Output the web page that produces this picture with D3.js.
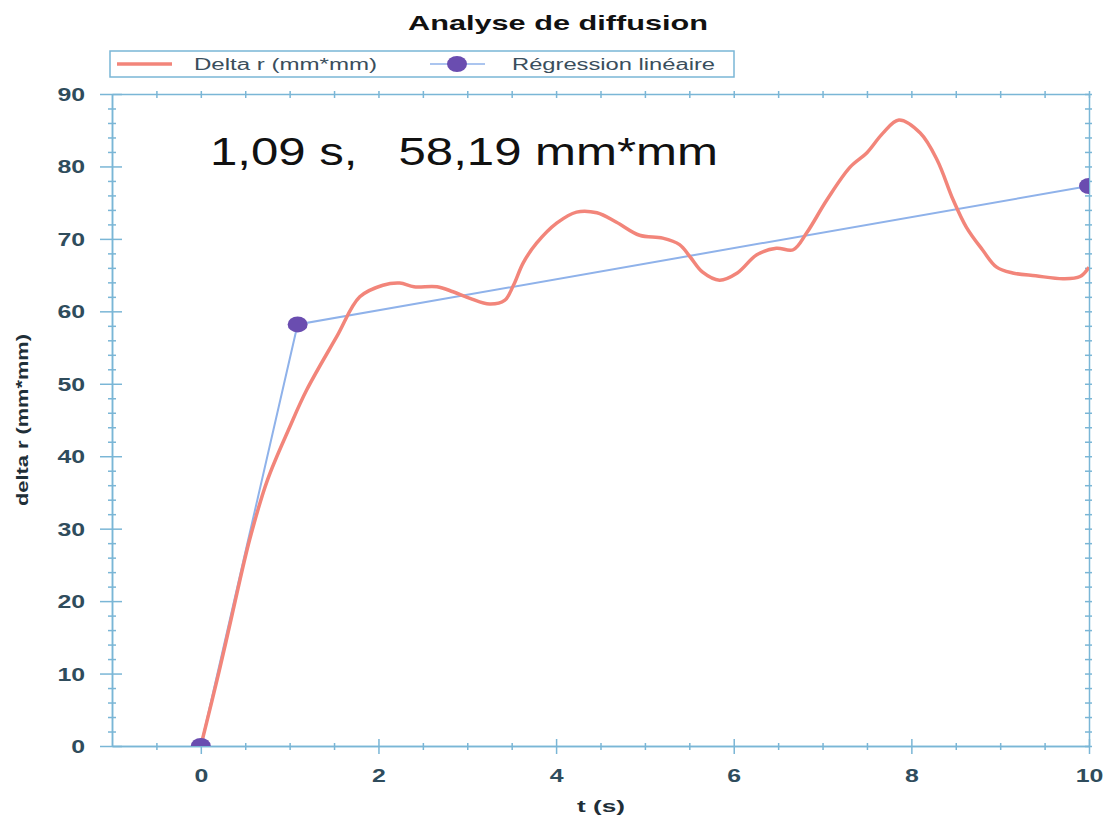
<!DOCTYPE html>
<html>
<head>
<meta charset="utf-8">
<script src="https://cdn.jsdelivr.net/npm/d3@7"></script>
<style>
  body { margin: 0; background: #fff; }
  text { font-family: "Liberation Sans", Arial, sans-serif; }
</style>
</head>
<body>
<div id="chart"></div>
<script>
var width = 1106,
    height = 823;

// Delta r (mm*mm) curve
var deltaT = [0, 0.21, 0.35, 0.55, 0.75, 1.0, 1.19, 1.53, 1.79, 2.05, 2.24, 2.4, 2.66, 2.84, 3.03, 3.25, 3.42, 3.52,
              3.63, 3.78, 4.01, 4.23, 4.46, 4.68, 4.94, 5.2, 5.39, 5.51, 5.65, 5.84, 6.04, 6.26, 6.48, 6.67, 6.82,
              7.05, 7.31, 7.5, 7.68, 7.86, 8.1, 8.29, 8.47, 8.62, 8.8, 8.96, 9.14, 9.4, 9.71, 9.9, 10];
var deltaR = [0, 10.5, 18, 28.5, 36.7, 44, 49.1, 56.5, 62.0, 63.6, 63.9, 63.4, 63.4, 62.7, 61.8, 61.0, 61.5, 63.6,
              66.7, 69.4, 72.2, 73.7, 73.6, 72.3, 70.5, 70.1, 69.2, 67.5, 65.4, 64.3, 65.3, 67.8, 68.7, 68.5, 70.8,
              75.4, 79.9, 81.9, 84.6, 86.4, 84.6, 80.9, 75.4, 71.6, 68.5, 66.1, 65.3, 64.9, 64.5, 64.8, 66.1];

// linear regression points
var regT = [0, 1.09, 10];
var regR = [0, 58.19, 77.3];

var xMajor = [0, 2, 4, 6, 8, 10];
var yMajor = [0, 10, 20, 30, 40, 50, 60, 70, 80, 90];

var axisColor = "#7ab6d6",
    labelColor = "#2f4c5c",
    stretch = 1.38; // the picture is squeezed wide, so text gets widened too

var svg = d3.select("#chart").append("svg").attr("width", width).attr("height", height);
svg.append("rect").attr("width", width).attr("height", height).attr("fill", "#fff");

var x = d3.scaleLinear().domain([-1, 10]).range([112, 1089]);
var y = d3.scaleLinear().domain([0, 90]).range([746, 94]);

var x0 = x.range()[0], x1 = x.range()[1], y0 = y.range()[0], y1 = y.range()[1];

// minor tick values
var xMinor = d3.range(-0.5, 10, 0.5).filter(function(d) { return d % 2 !== 0; });
var yMinor = d3.range(2, 90, 2).filter(function(d) { return d % 10 !== 0; });

function styleAxis(g) {
    g.select(".domain").attr("stroke", axisColor).attr("stroke-width", 1.5);
    g.selectAll(".tick line").attr("stroke", axisColor).attr("stroke-width", 1.5);
}

// bottom axis (labels + major ticks)
var gx = svg.append("g").attr("transform", "translate(0," + y0 + ")")
    .call(d3.axisBottom(x).tickValues(xMajor).tickSize(0).tickPadding(0));
styleAxis(gx);
gx.selectAll(".tick line").attr("y1", -7).attr("y2", 8);
gx.selectAll(".tick text").attr("y", 36).attr("dy", null)
    .attr("transform", "scale(" + stretch + ",1)")
    .attr("fill", labelColor).style("font-size", "18px").style("font-weight", "bold");

var gxm = svg.append("g").attr("transform", "translate(0," + y0 + ")")
    .call(d3.axisBottom(x).tickValues(xMinor).tickSize(0).tickFormat(""));
styleAxis(gxm);
gxm.selectAll(".tick line").attr("y1", -3).attr("y2", 4);

// top axis, ticks only
var gt = svg.append("g").attr("transform", "translate(0," + y1 + ")")
    .call(d3.axisTop(x).tickValues(xMajor.concat(xMinor)).tickSize(0).tickFormat(""));
styleAxis(gt);
gt.selectAll(".tick line").attr("y1", -3).attr("y2", 4);

// left axis
var gy = svg.append("g").attr("transform", "translate(" + x0 + ",0)")
    .call(d3.axisLeft(y).tickValues(yMajor).tickSize(0).tickPadding(0));
styleAxis(gy);
gy.selectAll(".tick line").attr("x1", -12).attr("x2", 10);
gy.selectAll(".tick text").attr("x", -27 / stretch).attr("dy", "0.36em")
    .attr("transform", "scale(" + stretch + ",1)")
    .attr("fill", labelColor).style("font-size", "18px").style("font-weight", "bold");

var gym = svg.append("g").attr("transform", "translate(" + x0 + ",0)")
    .call(d3.axisLeft(y).tickValues(yMinor).tickSize(0).tickFormat(""));
styleAxis(gym);
gym.selectAll(".tick line").attr("x1", -4).attr("x2", 4);

// right axis, ticks only
var gr = svg.append("g").attr("transform", "translate(" + x1 + ",0)")
    .call(d3.axisRight(y).tickValues(yMajor.concat(yMinor)).tickSize(0).tickFormat(""));
styleAxis(gr);
gr.selectAll(".tick line").attr("x1", -4).attr("x2", 3);

// clip to the plot frame
svg.append("clipPath").attr("id", "plot")
    .append("rect").attr("x", x0).attr("y", y1).attr("width", x1 - x0).attr("height", y0 - y1);

var plot = svg.append("g").attr("clip-path", "url(#plot)");

var deltaData = deltaT.map(function(t, i) { return [t, deltaR[i]]; });
var regData = regT.map(function(t, i) { return [t, regR[i]]; });

var line = d3.line()
    .x(function(d) { return x(d[0]); })
    .y(function(d) { return y(d[1]); });

plot.append("path").datum(regData)
    .attr("d", line).attr("fill", "none")
    .attr("stroke", "#8fb2ea").attr("stroke-width", 2);

plot.append("path").datum(deltaData)
    .attr("d", line.curve(d3.curveCatmullRom.alpha(0.5))).attr("fill", "none")
    .attr("stroke", "#f2857a").attr("stroke-width", 3.5).attr("stroke-linejoin", "round");

plot.selectAll(".dot").data(regData).enter().append("ellipse")
    .attr("cx", function(d) { return x(d[0]); })
    .attr("cy", function(d) { return y(d[1]); })
    .attr("rx", 10).attr("ry", 8)
    .attr("fill", "#6a4db0");

// annotation of the knee point
svg.append("text").attr("x", 210).attr("y", 165)
    .attr("textLength", 508).attr("lengthAdjust", "spacingAndGlyphs")
    .style("font-size", "38px").style("white-space", "pre").attr("fill", "#111")
    .text("1,09 s,   58,19 mm*mm");

// title
svg.append("text").attr("x", 408).attr("y", 30)
    .attr("textLength", 300).attr("lengthAdjust", "spacingAndGlyphs")
    .style("font-size", "21px").style("font-weight", "bold").attr("fill", "#111")
    .text("Analyse de diffusion");

// axis titles
svg.append("text").attr("x", 577).attr("y", 812)
    .attr("textLength", 48).attr("lengthAdjust", "spacingAndGlyphs")
    .style("font-size", "17px").style("font-weight", "bold").attr("fill", "#1f2f38")
    .text("t (s)");

svg.append("text").attr("transform", "translate(28,420) rotate(-90)")
    .attr("text-anchor", "middle")
    .attr("textLength", 172).attr("lengthAdjust", "spacingAndGlyphs")
    .style("font-size", "16px").style("font-weight", "bold").attr("fill", "#1f2f38")
    .text("delta r (mm*mm)");

// legend
var legend = svg.append("g");
legend.append("rect").attr("x", 110).attr("y", 51).attr("width", 624).attr("height", 26)
    .attr("fill", "#fff").attr("stroke", axisColor).attr("stroke-width", 1.5);

var legendItems = [
    {label: "Delta r (mm*mm)", color: "#f2857a", lx: 117, tx: 194, tw: 183, dot: false},
    {label: "Régression linéaire", color: "#8fb2ea", lx: 430, tx: 512, tw: 203, dot: true}
];

legendItems.forEach(function(d) {
    legend.append("line").attr("x1", d.lx).attr("x2", d.lx + 55).attr("y1", 64).attr("y2", 64)
        .attr("stroke", d.color).attr("stroke-width", d.dot ? 1.5 : 3.5);
    if (d.dot) {
        legend.append("ellipse").attr("cx", d.lx + 27).attr("cy", 64).attr("rx", 10).attr("ry", 8)
            .attr("fill", "#6a4db0");
    }
    legend.append("text").attr("x", d.tx).attr("y", 70)
        .attr("textLength", d.tw).attr("lengthAdjust", "spacingAndGlyphs")
        .style("font-size", "16px").attr("fill", "#3a4e5c")
        .text(d.label);
});
</script>
</body>
</html>
